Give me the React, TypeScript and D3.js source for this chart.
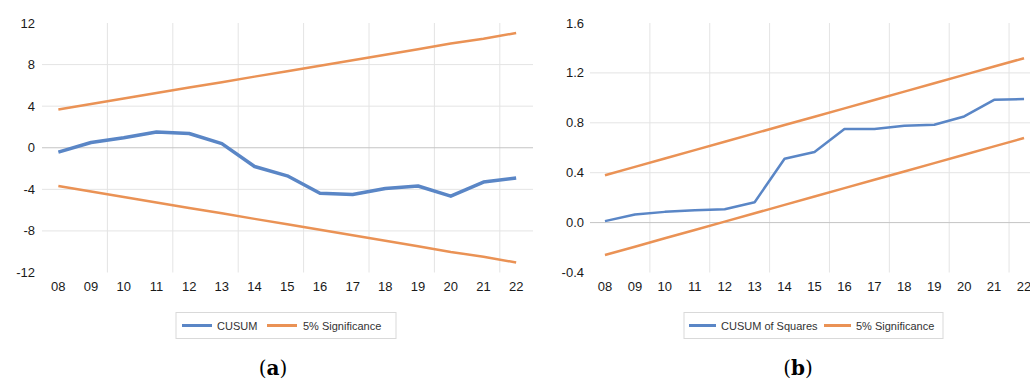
import React from "react";
import * as d3 from "d3";

const categories = ["08", "09", "10", "11", "12", "13", "14", "15", "16", "17", "18", "19", "20", "21", "22"];

const cusum = [-0.42, 0.5, 0.97, 1.52, 1.37, 0.4, -1.8, -2.7, -4.37, -4.5, -3.92, -3.68, -4.66, -3.3, -2.9];
const cusumUpper = [3.68, 4.21, 4.74, 5.26, 5.79, 6.31, 6.84, 7.36, 7.89, 8.42, 8.94, 9.47, 10.02, 10.48, 11.04];
const cusumLower = [-3.68, -4.21, -4.74, -5.26, -5.79, -6.31, -6.84, -7.36, -7.89, -8.42, -8.94, -9.47, -10.02, -10.48, -11.04];
const cusumTicks = [-12, -8, -4, 0, 4, 8, 12];

const cusumSq = [0.012, 0.065, 0.086, 0.099, 0.107, 0.163, 0.512, 0.566, 0.75, 0.75, 0.776, 0.784, 0.851, 0.984, 0.99];
const sqUpper = [0.38, 0.447, 0.514, 0.581, 0.648, 0.715, 0.782, 0.849, 0.916, 0.983, 1.05, 1.117, 1.184, 1.251, 1.318];
const sqLower = [-0.26, -0.193, -0.126, -0.059, 0.008, 0.075, 0.142, 0.209, 0.276, 0.343, 0.41, 0.477, 0.544, 0.611, 0.678];
const sqTicks = [-0.4, 0, 0.4, 0.8, 1.2, 1.6];

const BLUE = "#5A86C6";
const ORANGE = "#EA9255";
const GRID = "#E4E4E4";
const ZERO = "#C4C4C4";
const FONT = "Liberation Sans, Arial, sans-serif";

type PanelProps = {
  left: number;
  right: number;
  gridRight: number;
  yLabelX: number;
  domain: [number, number];
  ticks: number[];
  fmt: (v: number) => string;
  main: number[];
  upper: number[];
  lower: number[];
  mainWidth: number;
  mainName: string;
  legendX: number;
  legendW: number;
  legendItems: { name: string; color: string; sw0: number; sw1: number; tx: number }[];
  caption: string;
  captionX: number;
};

function Panel(p: PanelProps) {
  const x = d3.scaleBand<string>().domain(categories).range([p.left, p.right]).paddingInner(0).paddingOuter(0);
  const cx = (c: string) => (x(c) as number) + x.bandwidth() / 2;
  const y = d3.scaleLinear().domain(p.domain).range([272.5, 23]);
  const line = d3
    .line<number>()
    .x((_, i) => cx(categories[i]))
    .y((d) => y(d));
  const vgrid = categories.filter((_, i) => i > 0 && i % 2 === 0);
  return (
    <g>
      {p.ticks
        .filter((t) => t !== 0 && t !== p.domain[0] && t !== p.domain[1])
        .map((t) => (
          <line key={"h" + t} x1={p.left} x2={p.gridRight} y1={y(t)} y2={y(t)} stroke={GRID} strokeWidth={1} />
        ))}
      {vgrid.map((c) => (
        <line key={"v" + c} x1={x(c)} x2={x(c)} y1={y(p.domain[1])} y2={y(p.domain[0])} stroke={GRID} strokeWidth={1} />
      ))}
      <line x1={p.left} x2={p.gridRight} y1={y(0)} y2={y(0)} stroke={ZERO} strokeWidth={1} />
      {p.ticks.map((t) => (
        <text key={"t" + t} x={p.yLabelX} y={y(t) + 4.5} textAnchor="end" fontFamily={FONT} fontSize={13} fill="#1a1a1a">
          {p.fmt(t)}
        </text>
      ))}
      {categories.map((c) => (
        <text key={"c" + c} x={cx(c)} y={290.5} textAnchor="middle" fontFamily={FONT} fontSize={13} fill="#1a1a1a">
          {c}
        </text>
      ))}
      <path d={line(p.upper) || ""} fill="none" stroke={ORANGE} strokeWidth={2.5} strokeLinejoin="round" />
      <path d={line(p.lower) || ""} fill="none" stroke={ORANGE} strokeWidth={2.5} strokeLinejoin="round" />
      <path d={line(p.main) || ""} fill="none" stroke={BLUE} strokeWidth={p.mainWidth} strokeLinejoin="round" />
      <rect x={p.legendX} y={312.5} width={p.legendW} height={26} fill="#fff" stroke="#D9D9D9" strokeWidth={1} />
      {p.legendItems.map((it) => (
        <g key={it.name}>
          <line x1={it.sw0} x2={it.sw1} y1={325.5} y2={325.5} stroke={it.color} strokeWidth={3} />
          <text x={it.tx} y={329.5} fontFamily={FONT} fontSize={11} fill="#333">
            {it.name}
          </text>
        </g>
      ))}
      <text x={p.captionX} y={375} textAnchor="middle" fontFamily="DejaVu Serif, serif" fontSize={20} fill="#000">
        (<tspan fontWeight="bold">{p.caption}</tspan>)
      </text>
    </g>
  );
}

export default function App() {
  return (
    <svg
      width={1030}
      height={379}
      style={{ position: "absolute", left: 0, top: 0, background: "#fff" }}
    >
      <rect x={0} y={0} width={1030} height={379} fill="#fff" />
      <Panel
        left={42}
        right={532.5}
        gridRight={533}
        yLabelX={35}
        domain={[-12, 12]}
        ticks={cusumTicks}
        fmt={(v) => String(v)}
        main={cusum}
        upper={cusumUpper}
        lower={cusumLower}
        mainWidth={3.5}
        mainName="CUSUM"
        legendX={176}
        legendW={220}
        legendItems={[
          { name: "CUSUM", color: BLUE, sw0: 182, sw1: 212, tx: 217 },
          { name: "5% Significance", color: ORANGE, sw0: 267, sw1: 297, tx: 303 },
        ]}
        caption="a"
        captionX={273}
      />
      <Panel
        left={590}
        right={1039}
        gridRight={1040}
        yLabelX={584}
        domain={[-0.4, 1.6]}
        ticks={sqTicks}
        fmt={(v) => v.toFixed(1)}
        main={cusumSq}
        upper={sqUpper}
        lower={sqLower}
        mainWidth={2.5}
        mainName="CUSUM of Squares"
        legendX={684}
        legendW={259}
        legendItems={[
          { name: "CUSUM of Squares", color: BLUE, sw0: 689, sw1: 716, tx: 721 },
          { name: "5% Significance", color: ORANGE, sw0: 824, sw1: 851, tx: 856 },
        ]}
        caption="b"
        captionX={798}
      />
    </svg>
  );
}
